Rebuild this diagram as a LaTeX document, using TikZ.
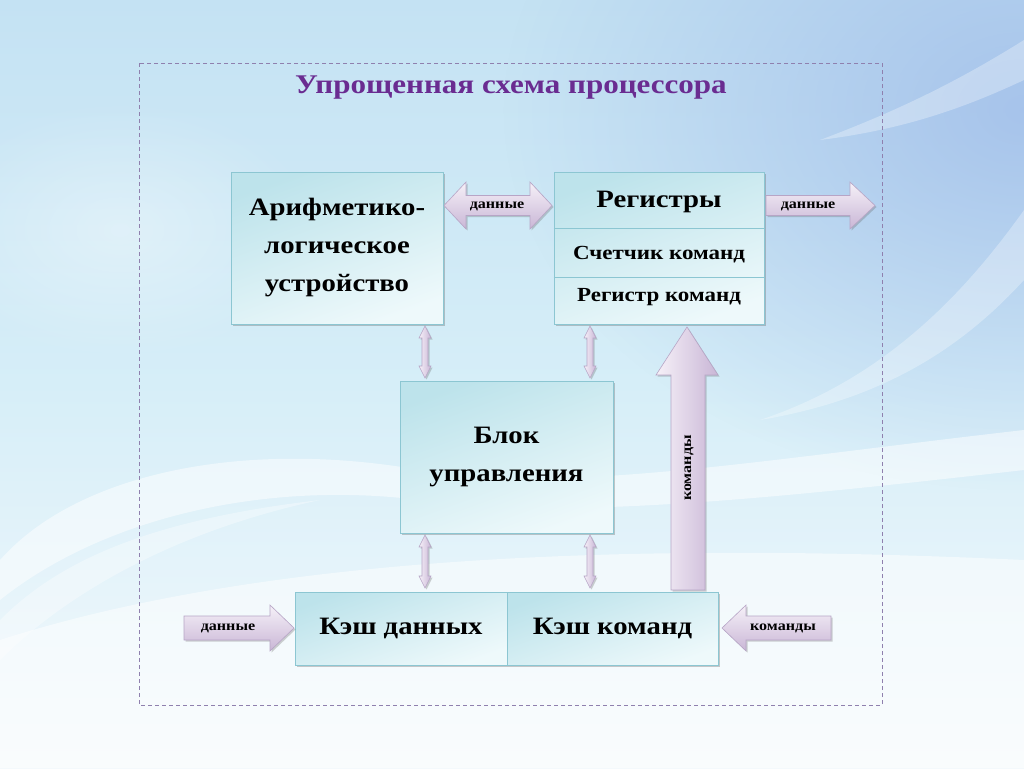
\documentclass[tikz,border=0pt]{standalone}
\usepackage{fontspec}
\setmainfont[FakeStretch=1.15]{Liberation Serif}
\usetikzlibrary{shadows,fadings,calc}
\definecolor{bgtop}{HTML}{C4E2F3}
\definecolor{bgmid}{HTML}{D6EEF8}
\definecolor{bgbot}{HTML}{F4F9FC}
\definecolor{bgblue}{HTML}{A3C0EA}
\definecolor{boxdark}{HTML}{BDE3EB}
\definecolor{boxlight}{HTML}{EEF9FB}
\definecolor{boxline}{HTML}{8CC6D2}
\definecolor{arrtop}{HTML}{F6F1F8}
\definecolor{arrbot}{HTML}{C9B6D6}
\definecolor{arrline}{HTML}{B7A5C6}
\definecolor{titlecol}{HTML}{6A2C91}
\definecolor{frame}{HTML}{8F80AE}
\tikzfading[name=radfade, inner color=transparent!0, outer color=transparent!100]
\tikzset{
  unitbox/.style={draw=boxline, line width=0.8pt, top color=boxdark, bottom color=boxlight, shading angle=20,
    drop shadow={shadow xshift=2pt, shadow yshift=-2pt, opacity=0.35, fill=black!60},
    inner sep=0pt, align=center, font=\bfseries\fontsize{25}{38}\selectfont},
  blockarrow/.style={draw=arrline, line width=0.6pt, top color=arrtop, bottom color=arrbot,
    drop shadow={shadow xshift=1.5pt, shadow yshift=-1.5pt, opacity=0.3, fill=black!60}},
  varrow/.style={draw=arrline, line width=0.6pt, left color=arrtop, right color=arrbot,
    drop shadow={shadow xshift=1.5pt, shadow yshift=-1.5pt, opacity=0.3, fill=black!60}},
  smalllabel/.style={font=\bfseries\fontsize{14}{16}\selectfont, inner sep=0pt},
}
\begin{document}
\begin{tikzpicture}[x=1pt,y=-1pt]
\useasboundingbox (0,0) rectangle (1024,768);
% background
\fill[top color=bgtop, bottom color=bgbot, middle color=bgmid] (0,0) rectangle (1024,768);
\fill[bgblue, path fading=radfade, opacity=0.9] (1024,110) ellipse [x radius=520, y radius=380];
\fill[white, opacity=0.35, path fading=radfade] (120,230) ellipse [x radius=200, y radius=130];
\fill[white, opacity=0.5] (0,560) .. controls (80,470) and (250,440) .. (420,470)
  .. controls (560,495) and (760,460) .. (1024,430) -- (1024,470)
  .. controls (760,500) and (560,520) .. (420,500) .. controls (260,480) and (100,520) .. (0,600) -- cycle;
\fill[white, opacity=0.5] (0,768) -- (0,640) .. controls (250,560) and (600,540) .. (1024,560) -- (1024,768) -- cycle;
\fill[white, opacity=0.35] (0,620) .. controls (60,560) and (150,520) .. (320,500)
  .. controls (180,530) and (70,590) .. (0,660) -- cycle;
\fill[white, opacity=0.3] (760,420) .. controls (880,380) and (960,300) .. (1024,210) -- (1024,280)
  .. controls (960,350) and (880,400) .. (760,420) -- cycle;
\fill[white, opacity=0.3] (820,140) .. controls (900,110) and (960,80) .. (1024,40) -- (1024,80)
  .. controls (960,110) and (900,130) .. (820,140) -- cycle;

% frame and title
\draw[frame, line width=1pt, dash pattern=on 4pt off 3pt] (139,63) rectangle (882,705);
\node[text=titlecol, font=\bfseries\fontsize{27}{30}\selectfont] (title) at (511,88) {Упрощенная схема процессора};

% big up arrow (команды)
\path[varrow] (671,590) -- (671,375) -- (656,375) -- (687,327) -- (718,375) -- (705,375) -- (705,590) -- cycle;
\node[smalllabel, rotate=90] (cmdv) at (689,468) {команды};

% small vertical double arrows
\foreach \xx/\ya/\yb in {425/326/378, 590/326/378, 425/535/588, 590/535/588}{
  \path[varrow] (\xx,\ya) -- (\xx+6,\ya+12) -- (\xx+3,\ya+12) -- (\xx+3,\yb-12) -- (\xx+6,\yb-12)
     -- (\xx,\yb) -- (\xx-6,\yb-12) -- (\xx-3,\yb-12) -- (\xx-3,\ya+12) -- (\xx-6,\ya+12) -- cycle;
}

% boxes
\node[unitbox, minimum width=212, minimum height=152] (alu) at (337,248) {Арифметико-\\логическое\\устройство};
\node[unitbox, minimum width=210, minimum height=152] (reg) at (659,248) {};
\node[unitbox, minimum width=213, minimum height=152] (ctrl) at (506.5,457) {Блок\\управления};
\node[unitbox, minimum width=212, minimum height=73] (cached) at (401,628.5) {Кэш данных};
\node[unitbox, minimum width=211, minimum height=73] (cachek) at (612.5,628.5) {Кэш команд};

\draw[boxline, line width=0.8pt] (reg.west |- 0,228) -- (reg.east |- 0,228);
\draw[boxline, line width=0.8pt] (reg.west |- 0,277) -- (reg.east |- 0,277);
\node[font=\bfseries\fontsize{25}{30}\selectfont] (regt) at (659,202) {Регистры};
\node[font=\bfseries\fontsize{20}{24}\selectfont] (cnt) at (659,255) {Счетчик команд};
\node[font=\bfseries\fontsize{20}{24}\selectfont] (rcmd) at (659,297) {Регистр команд};

% horizontal block arrows
\path[blockarrow] (444,205.5) -- (466,182) -- (466,195.5) -- (530,195.5) -- (530,182) -- (552,205.5)
  -- (530,229) -- (530,215.5) -- (466,215.5) -- (466,229) -- cycle;
\node[smalllabel] (d1) at (497,206) {данные};
\path[blockarrow] (766,195.5) -- (850,195.5) -- (850,182) -- (875,205.5) -- (850,229) -- (850,215.5) -- (766,215.5) -- cycle;
\node[smalllabel] (d2) at (808,206) {данные};
\path[blockarrow] (184,616) -- (270,616) -- (270,605) -- (294,628) -- (270,651) -- (270,640) -- (184,640) -- cycle;
\node[smalllabel] (d3) at (228,628) {данные};
\path[blockarrow] (722,628) -- (746,605) -- (746,616) -- (831,616) -- (831,640) -- (746,640) -- (746,651) -- cycle;
\node[smalllabel] (k1) at (783,628) {команды};
\end{tikzpicture}
\end{document}
